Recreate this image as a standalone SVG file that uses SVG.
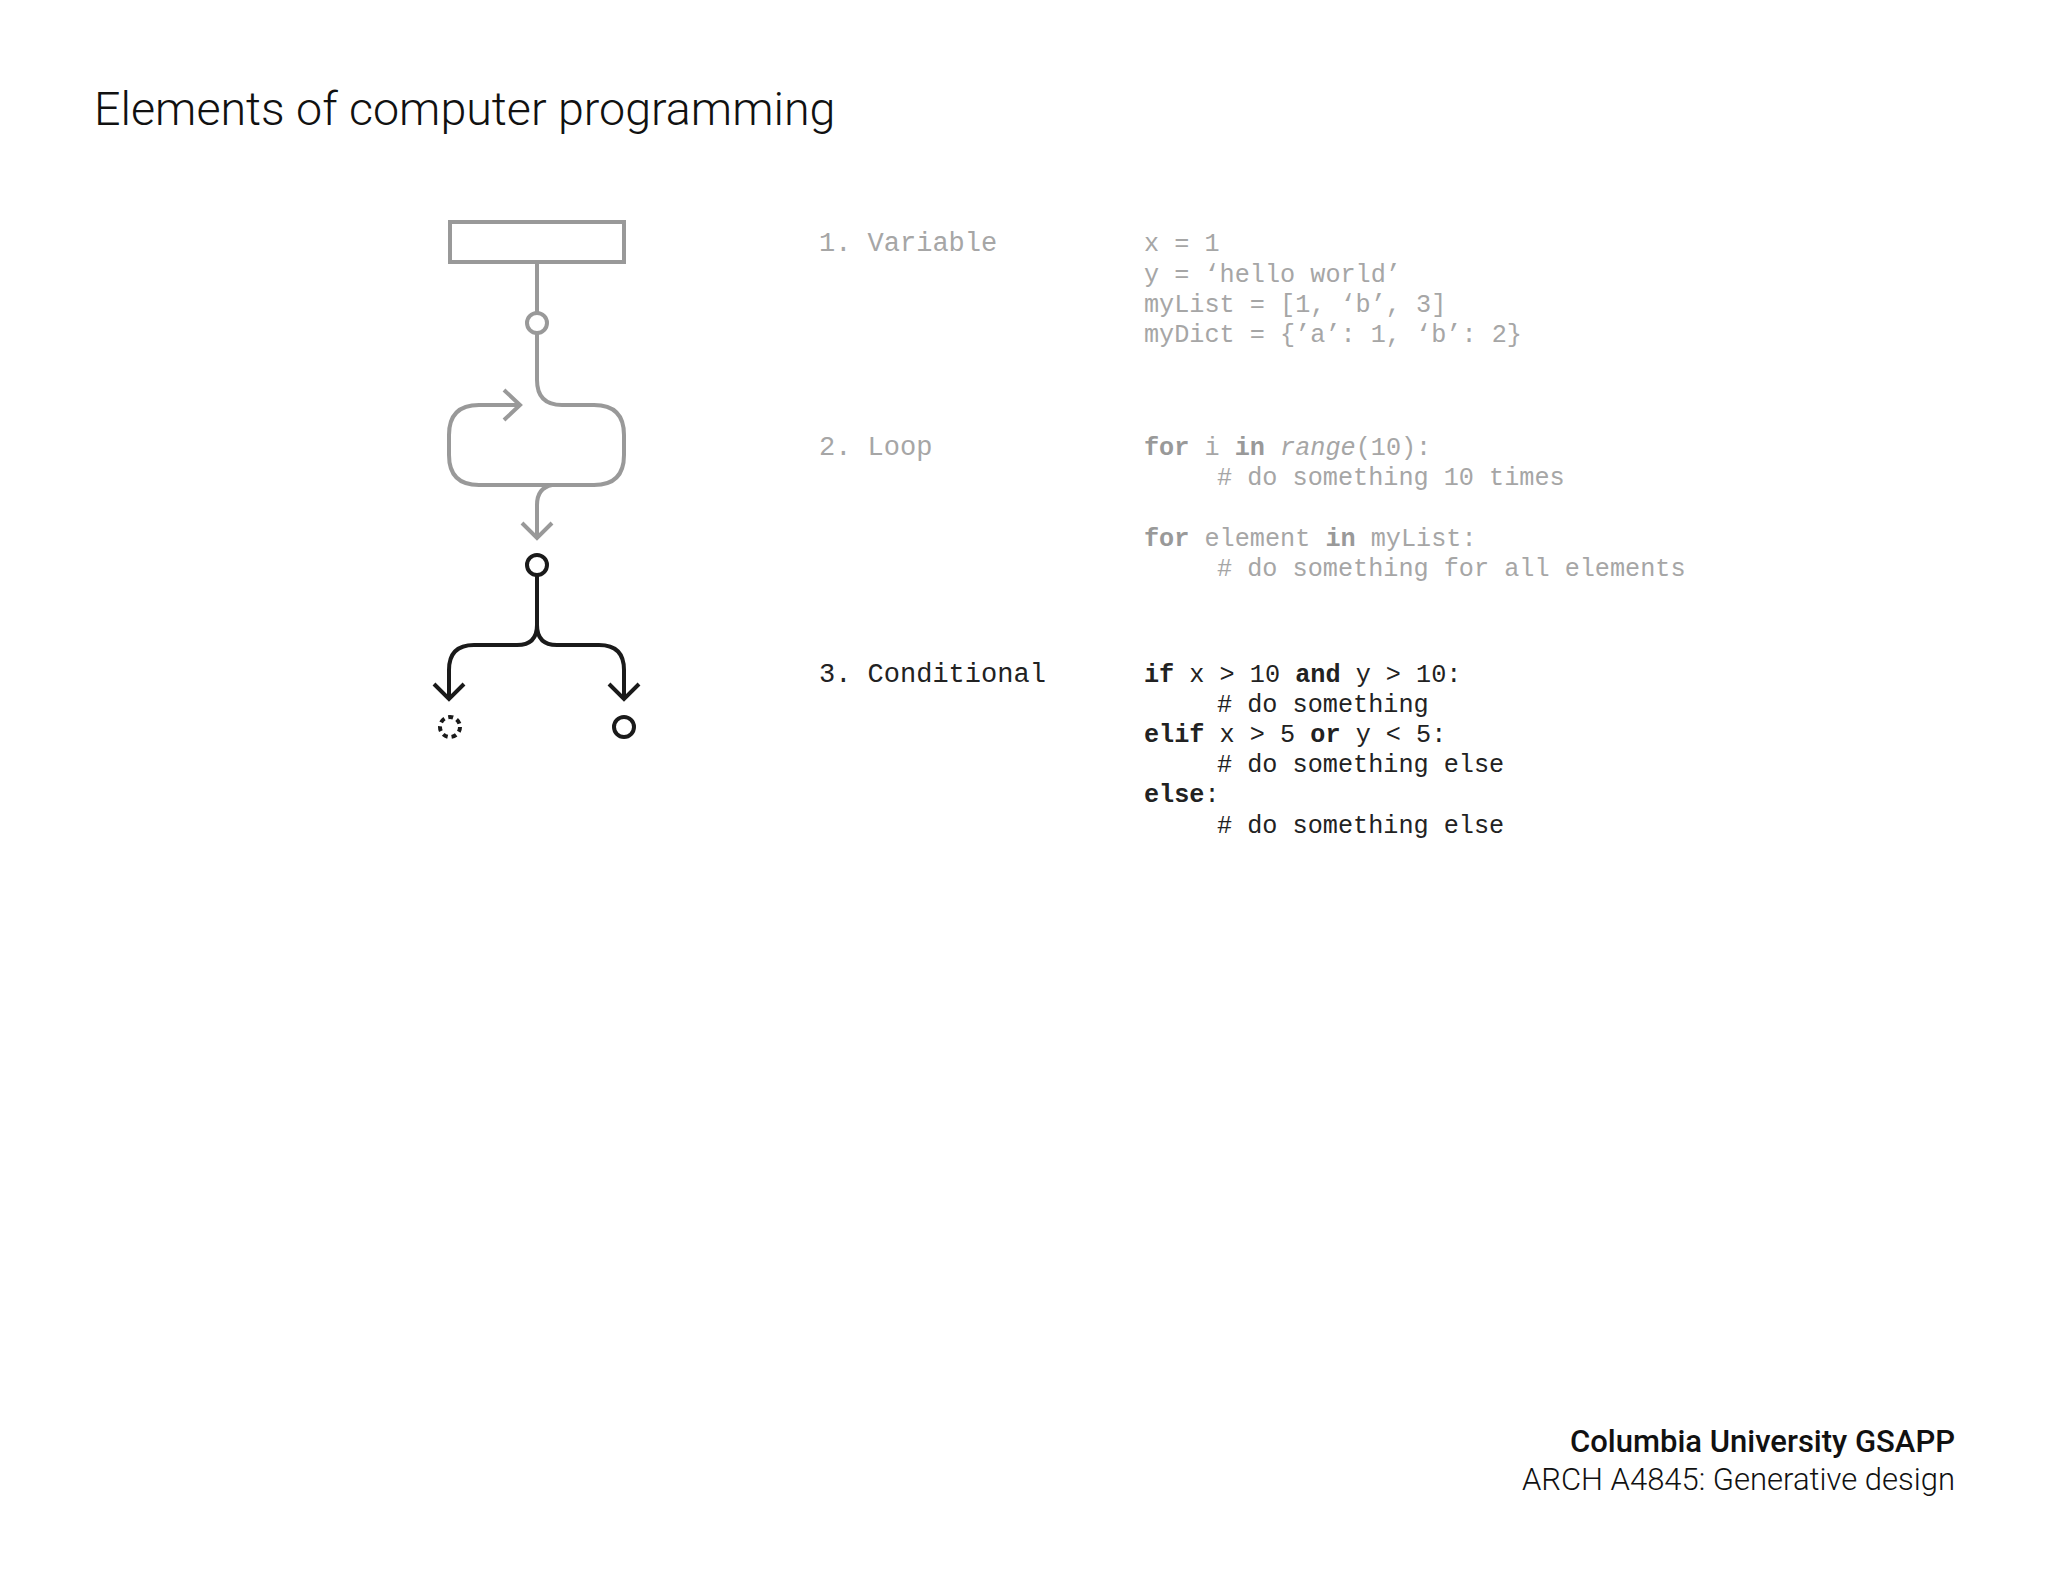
<svg xmlns="http://www.w3.org/2000/svg" width="2048" height="1582" viewBox="0 0 2048 1582">
<style>
.g{fill:none;stroke:#999;stroke-width:4;stroke-linecap:butt}
.k{fill:none;stroke:#1a1a1a;stroke-width:4}
.code{font-family:"Liberation Mono",monospace;font-size:25.2px;fill:#a6a6a6}
.lbl{font-size:27px}
.dark{fill:#222}
.b{font-weight:bold}
.ui{font-family:Roboto,"Liberation Sans",sans-serif}
</style>
<rect width="2048" height="1582" fill="#fff"/>
<text class="ui" x="94" y="125" font-size="46.6" font-weight="300" fill="#111">Elements of computer programming</text>
<g id="connectors">
<path class="g" d="M537 264 V313"/>
<path class="g" d="M537 333 V380 Q537 405 562 405 H594 Q624 405 624 435 V455 Q624 485 594 485 H479 Q449 485 449 455 V435 Q449 405 479 405 H518"/>
<path class="g" d="M504 390 L520 405 L504 420"/>
<path class="g" d="M552 485 Q537 488 537 505 V538"/>
<path class="g" d="M522 523 L537 538 L552 523"/>
<path class="k" d="M537 575 V625 Q537 645 517 645 H474 Q449 645 449 670 V699"/>
<path class="k" d="M537 625 Q537 645 557 645 H599 Q624 645 624 670 V699"/>
<path class="k" d="M434 684 L449 699 L464 684"/>
<path class="k" d="M609 684 L624 699 L639 684"/>
</g>
<g id="variable"><rect class="g" x="450" y="222" width="174" height="40"/><circle class="g" cx="537" cy="323" r="10" fill="#fff"/></g>
<g id="loopnode"><circle class="k" cx="537" cy="565" r="10" fill="#fff"/></g>
<g id="out1"><circle class="k" cx="450" cy="727" r="10" stroke-dasharray="5 4"/></g>
<g id="out2"><circle class="k" cx="624" cy="727" r="10"/></g>
<g id="text" class="code">
<text class="lbl" x="819" y="251">1. Variable</text>
<text x="1144" y="251">x = 1</text>
<text x="1144" y="282">y = ‘hello world’</text>
<text x="1144" y="312">myList = [1, ‘b’, 3]</text>
<text x="1144" y="342">myDict = {’a’: 1, ‘b’: 2}</text>
<text class="lbl" x="819" y="455">2. Loop</text>
<text x="1144" y="455"><tspan class="b" fill="#999">for</tspan> i <tspan class="b" fill="#999">in</tspan> <tspan font-style="italic">range</tspan>(10):</text>
<text x="1217" y="485"># do something 10 times</text>
<text x="1144" y="546"><tspan class="b" fill="#999">for</tspan> element <tspan class="b" fill="#999">in</tspan> myList:</text>
<text x="1217" y="576"># do something for all elements</text>
<g class="dark">
<text class="lbl" x="819" y="682">3. Conditional</text>
<text x="1144" y="682"><tspan class="b">if</tspan> x &gt; 10 <tspan class="b">and</tspan> y &gt; 10:</text>
<text x="1217" y="712"># do something</text>
<text x="1144" y="742"><tspan class="b">elif</tspan> x &gt; 5 <tspan class="b">or</tspan> y &lt; 5:</text>
<text x="1217" y="772"># do something else</text>
<text x="1144" y="802"><tspan class="b">else</tspan>:</text>
<text x="1217" y="833"># do something else</text>
</g>
</g>
<text class="ui" x="1955" y="1452" font-size="31" font-weight="500" text-anchor="end" fill="#111">Columbia University GSAPP</text>
<text class="ui" x="1955" y="1490" font-size="31" font-weight="300" text-anchor="end" fill="#111">ARCH A4845: Generative design</text>
</svg>
